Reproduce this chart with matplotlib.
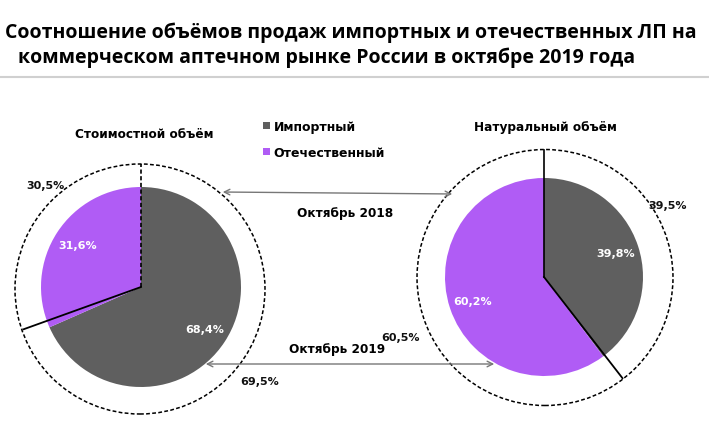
import matplotlib
matplotlib.use('Agg')
import matplotlib.pyplot as plt
import matplotlib.patches as patches
import numpy as np

title = ['Соотношение объёмов продаж импортных и отечественных ЛП на',
         'коммерческом аптечном рынке России в октябре 2019 года']
names = ['Импортный', 'Отечественный']
colors = ['#5f5f5f', '#b05cf5']

# октябрь 2019 (inner pies) and октябрь 2018 (outer dashed rings)
value_2019 = [68.4, 31.6]
value_2018 = [69.5, 30.5]
volume_2019 = [39.8, 60.2]
volume_2018 = [39.5, 60.5]

W, H = 709, 431
fig = plt.figure(figsize=(W / 100, H / 100), dpi=100)
ax = fig.add_axes([0, 0, 1, 1])


def py(y):
    # pixel row -> data y (y up)
    return H - y


def fmt(p):
    return ('%.1f%%' % p).replace('.', ',')


def draw(center, r, ring_center, r_out, inner, outer, dashed_top):
    wedges, _, autotexts = ax.pie(inner, colors=colors, startangle=90,
                                  counterclock=False, center=center, radius=r,
                                  autopct=fmt, pctdistance=0.76,
                                  textprops=dict(color='white', fontsize=8,
                                                 fontweight='bold'))
    ax.add_patch(patches.Circle(ring_center, r_out, fill=False, ec='black',
                                lw=1.1, ls=(0, (2.5, 1.5))))
    # separators of the 2018 ring
    ang = np.deg2rad(90 - 360 * outer[0] / 100)
    ax.plot([center[0], center[0]], [center[1], ring_center[1] + r_out],
            color='black', lw=1.2, ls=(0, (2.5, 1.5)) if dashed_top else '-')
    ax.plot([center[0], center[0] + r_out * np.cos(ang)],
            [center[1], center[1] + r_out * np.sin(ang)], color='black', lw=1.3)
    return wedges


wedges = draw((141, py(288)), 100, (140, py(290)), 125, value_2019, value_2018, True)
draw((544, py(278)), 99, (545, py(278.5)), 128, volume_2019, volume_2018, False)

lab = dict(fontsize=8, fontweight='bold', color='#111111', ha='center', va='center')
ax.text(45, py(186), fmt(value_2018[1]), **lab)
ax.text(260, py(382), fmt(value_2018[0]), **lab)
ax.text(668, py(206), fmt(volume_2018[0]), **lab)
ax.text(400, py(338), fmt(volume_2018[1]), **lab)

ax.text(144, py(134), 'Стоимостной объём', fontsize=8.7, fontweight='bold',
        ha='center', va='center')
ax.text(545, py(128), 'Натуральный объём', fontsize=8.7, fontweight='bold',
        ha='center', va='center')

# arrows between the rings
arr = dict(arrowstyle='<->', color='#777777', lw=1.0, mutation_scale=10)
ax.annotate('', xy=(455, py(195)), xytext=(220, py(193)), arrowprops=arr)
ax.annotate('', xy=(497, py(365)), xytext=(203, py(365)), arrowprops=arr)
ax.text(345, py(214), 'Октябрь 2018', fontsize=8.7, fontweight='bold',
        ha='center', va='center')
ax.text(337, py(350), 'Октябрь 2019', fontsize=8.7, fontweight='bold',
        ha='center', va='center')

ax.legend(wedges, names, loc='upper left', bbox_to_anchor=(252 / W, 1 - 110 / H),
          frameon=False, handlelength=0.5, handleheight=0.5, handletextpad=0.35,
          labelspacing=1.0, prop=dict(size=9, weight='bold'))

ax.text(5, py(33), title[0], fontsize=14, fontweight='bold', family='Open Sans',
        ha='left', va='center')
ax.text(18, py(58), title[1], fontsize=14, fontweight='bold', family='Open Sans',
        ha='left', va='center')
ax.plot([0, W], [py(78), py(78)], color='#d0d0d0', lw=1.5)

ax.set_xlim(0, W)
ax.set_ylim(0, H)
ax.set_aspect('auto')
ax.axis('off')
fig.savefig('out.png', dpi=100)
